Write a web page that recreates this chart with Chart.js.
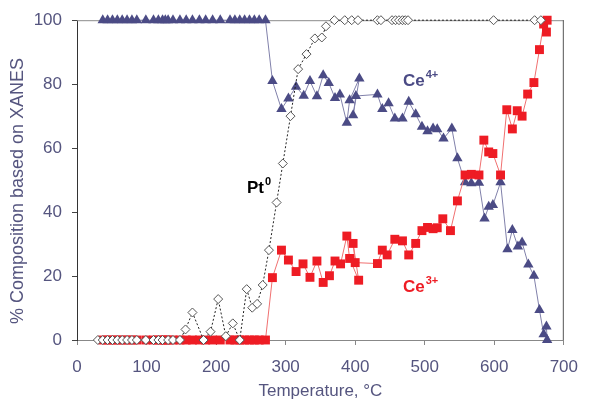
<!DOCTYPE html>
<html><head><meta charset="utf-8">
<script src="https://cdn.jsdelivr.net/npm/chart.js@4.4.1/dist/chart.umd.min.js"></script>
<style>html,body{margin:0;padding:0;background:#fff;}#wrap{width:590px;height:402px;}</style>
</head><body><div id="wrap"><canvas id="c" width="590" height="402"></canvas></div>
<script>
// Ce4+ (triangles)
const ce4T = [37,44,51,58,65,72,79,86,99,110,117,123,127,131,138,148,157,166,176,185,195,206,220,227,234,241,248,255,262,271,
  281,294,304,315,326,335,345,354,362,371,378,388,392,406,397,401,432,439,448,457,468,477,487,496,504,512,518,527,539,
  547,558,567,578,586,592,598,609,619,626,634,640,649,657,665,671,675,676];
const ce4V = [100,100,100,100,100,100,100,100,100,100,100,100,100,100,100,100,100,100,100,100,100,100,100,100,100,100,100,100,100,100,
  81,72.2,75.5,79.2,76.4,81,76.2,82.8,80.4,75.7,76.8,67.9,75,81.8,70.3,76.3,76.8,72.2,74,69.3,69.3,74.5,70.6,66.7,65.3,66.1,65.9,63,66.1,
  56.8,49.3,49,49.2,38,41.7,42.2,49.3,28.4,34.4,29.2,30.5,23.6,20.1,9.4,1.8,4.2,0];
// Ce3+ (squares)
const ce3T = [37,44,51,58,65,72,79,86,99,110,117,123,127,131,138,148,157,166,176,185,195,206,220,227,234,241,248,255,262,271,
  281,294,304,315,325,335,345,354,363,371,379,388,392,405,397,400,432,439,446,457,468,477,487,496,504,512,518,526,537,
  547,558,567,578,585,592,598,609,618,626,633,640,648,657,665,671,675,676];
const ce3V = [0,0,0,0,0,0,0,0,0,0,0,0,0,0,0,0,0,0,0,0,0,0,0,0,0,0,0,0,0,0,
  19.5,28.1,25,21.4,23.8,19.6,24.7,18,20.1,24.7,23.8,32.5,25.5,18.7,30.2,24.2,23.9,28.1,26.6,31.5,31,26.6,30.2,34.2,35.2,34.8,35.1,37.9,34.2,
  43.5,51.6,51.8,51.6,62.5,58.8,58.3,51.6,72,66,71.7,70,76.9,80.5,90.8,98.8,96.3,100];
// Pt0 (open diamonds)
const ptT = [30,37,44,51,58,65,72,79,86,99,110,117,123,131,138,148,156,166,182,192,203,214,224,234,244,252,259,267,
  276,287,296,307,318,330,342,352,358,370,385,395,404,432,437,453,458,463,468,472,476,599,658,667];
const ptV = [0,0,0,0,0,0,0,0,0,0,0,0,0,0,0,0,3.3,8.6,0,2.6,12.8,1.2,5.2,0,15.9,10.1,11.3,17.2,
  28.1,43,55.2,70,84.7,89.4,94.3,94.6,98.1,100,100,100,100,100,100,100,100,100,100,100,100,100,100,100];
const xTicks = [0,100,200,300,400,500,600,700];
const yTicks = [0,20,40,60,80,100];

const pts = (t, v) => t.map((x, i) => ({x: x, y: v[i]}));
const axisColor = '#55557F';

const labelsPlugin = {
  id: 'labels',
  beforeDatasetsDraw(chart) {
    const {ctx, chartArea: a} = chart;
    ctx.save();
    ctx.lineWidth = 1;
    ctx.strokeStyle = '#8C8C8C';
    ctx.beginPath(); ctx.moveTo(a.left, a.top + 0.5); ctx.lineTo(a.right, a.top + 0.5); ctx.stroke();
    ctx.strokeStyle = '#555555';
    ctx.beginPath(); ctx.moveTo(a.right - 0.5, a.top); ctx.lineTo(a.right - 0.5, a.bottom); ctx.stroke();
    // y-axis title
    ctx.translate(18, 191);
    ctx.rotate(-Math.PI / 2);
    ctx.fillStyle = axisColor;
    ctx.font = '18px "Liberation Sans", Arial, sans-serif';
    ctx.textAlign = 'center';
    ctx.textBaseline = 'middle';
    ctx.fillText('% Composition based on XANES', 0, 0);
    ctx.restore();
  },
  afterDatasetsDraw(chart) {
    const {ctx} = chart;
    const sup = (x, y, main, s, color) => {
      ctx.save();
      ctx.fillStyle = color;
      ctx.textBaseline = 'alphabetic';
      ctx.font = 'bold 17px "Liberation Sans", Arial, sans-serif';
      ctx.fillText(main, x, y);
      const w = ctx.measureText(main).width;
      ctx.font = 'bold 11px "Liberation Sans", Arial, sans-serif';
      ctx.fillText(s, x + w + 1, y - 8);
      ctx.restore();
    };
    sup(403, 86, 'Ce', '4+', '#4B4B85');
    sup(403, 292, 'Ce', '3+', '#EE1C24');
    sup(247, 193, 'Pt', '0', '#000000');
  }
};

new Chart(document.getElementById('c'), {
  type: 'line',
  data: {
    datasets: [
      {label: 'Pt0', data: pts(ptT, ptV), order: 0, borderColor: '#222222', borderWidth: 1, borderDash: [2, 2],
        pointStyle: 'rectRot', pointRadius: 4.5, pointBackgroundColor: '#FFFFFF', pointBorderColor: '#555555', pointBorderWidth: 1},
      {label: 'Ce3+', data: pts(ce3T, ce3V), order: 1, borderColor: '#F07070', borderWidth: 1,
        pointStyle: 'rect', pointRadius: 6.3, pointBackgroundColor: '#EE1C24', pointBorderColor: '#EE1C24', pointBorderWidth: 0},
      {label: 'Ce4+', data: pts(ce4T, ce4V), order: 2, borderColor: '#8080AA', borderWidth: 1,
        pointStyle: 'triangle', pointRadius: 6, pointBackgroundColor: '#4B4B85', pointBorderColor: '#4B4B85', pointBorderWidth: 0}
    ]
  },
  options: {
    responsive: false, animation: false, devicePixelRatio: 1,
    layout: {padding: {left: 0, right: 17, top: 19, bottom: 0}},
    plugins: {legend: {display: false}, tooltip: {enabled: false}},
    elements: {line: {tension: 0}},
    clip: false,
    scales: {
      x: {
        type: 'linear', min: 0, max: 700,
        afterBuildTicks: s => { s.ticks = xTicks.map(v => ({value: v})); },
        afterFit: s => { s.height = 62; },
        grid: {display: true, drawOnChartArea: false, tickLength: 5, color: '#888888'},
        border: {color: '#888888', width: 1},
        ticks: {color: axisColor, font: {family: '"Liberation Sans", Arial', size: 17}, padding: 12, maxRotation: 0},
        title: {display: true, text: 'Temperature, °C', color: axisColor, font: {family: '"Liberation Sans", Arial', size: 17}, padding: {top: 0, bottom: 0}}
      },
      y: {
        min: 0, max: 100,
        afterBuildTicks: s => { s.ticks = yTicks.map(v => ({value: v})); },
        afterFit: s => { s.width = 77; },
        grid: {display: true, drawOnChartArea: false, tickLength: 5, color: '#444444'},
        border: {color: '#333333', width: 1},
        ticks: {color: axisColor, font: {family: '"Liberation Sans", Arial', size: 17}, padding: 10},
        title: {display: false}
      }
    }
  },
  plugins: [labelsPlugin]
});
</script></body></html>
